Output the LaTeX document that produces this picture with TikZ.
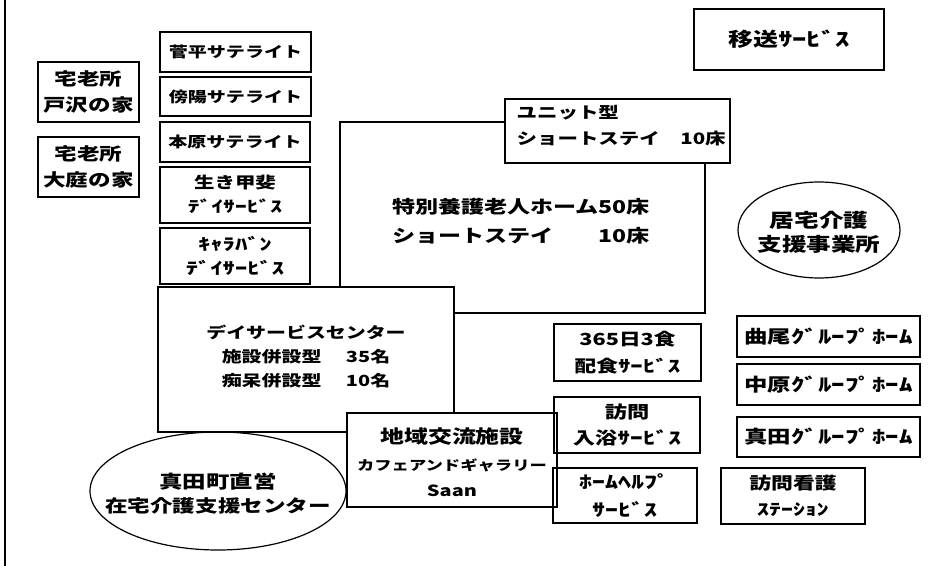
\documentclass[tikz,border=0pt]{standalone}
\usepackage{fontspec}
\usepackage{graphicx}
\usetikzlibrary{fit,shapes.geometric}
\newfontfamily\jp[FakeStretch=1.3]{Noto Sans CJK JP}
\newcommand\jpf[2]{\jp\bfseries\fontsize{#1}{#2}\selectfont}
\newcommand\hw[1]{\scalebox{1.15}[1]{#1}}
\newcommand\jline[1]{\raisebox{0pt}[0.88em][0.12em]{#1}}
\tikzset{
  box/.style={draw, line width=0.9pt, inner sep=0pt},
  oval/.style={draw, ellipse, line width=0.9pt, inner sep=0pt},
  label text/.style={inner sep=0pt, align=center},
  frame/.style={line width=0.9pt}
}

\begin{document}
\begin{tikzpicture}[x=0.75pt, y=-0.75pt]
		\useasboundingbox (0,0) rectangle (952,566);
		%%%%% LEFT EDGE %%%%%
		\draw[line width=1.5pt] (5,0) -- (5,566);
		
		%%%%% TOP ROW %%%%%
		\node[box, fit={(694,9) (884,70)}] (iso) {};
		\node[label text, font=\jpf{14.4}{18}] (isotext) at (iso) {\jline{移送\hw{ｻｰﾋﾞｽ}}};
		
		\node[box, fit={(160,32) (311,72)}] (sugadaira) {};
		\node[label text, font=\jpf{11}{16}] (sugadairatext) at (sugadaira) {\jline{菅平サテライト}};
		\node[box, fit={(160,77) (311,116)}] (soehi) {};
		\node[label text, font=\jpf{11}{16}] (soehitext) at (soehi) {\jline{傍陽サテライト}};
		\node[box, fit={(160,122) (310,162)}] (motohara) {};
		\node[label text, font=\jpf{11}{16}] (motoharatext) at (motohara) {\jline{本原サテライト}};
		\node[box, fit={(160,167) (310,223)}] (ikigai) {};
		\node[label text, font=\jpf{11.8}{18}] (ikigaitext) at (ikigai) {\jline{生き甲斐}\\\jline{\hw{ﾃﾞｲｻｰﾋﾞｽ}}};
		\node[box, fit={(160,228) (310,284)}] (caravan) {};
		\node[label text, font=\jpf{12.3}{18}] (caravantext) at (caravan) {\jline{\hw{ｷｬﾗﾊﾞﾝ}}\\\jline{\hw{ﾃﾞｲｻｰﾋﾞｽ}}};
		
		\node[box, fit={(38,62) (139,122)}] (tozawa) {};
		\node[label text, font=\jpf{13}{20}] (tozawatext) at (tozawa) {\jline{宅老所}\\\jline{戸沢の家}};
		\node[box, fit={(38,137) (139,197)}] (oniwa) {};
		\node[label text, font=\jpf{13}{20}] (oniwatext) at (oniwa) {\jline{宅老所}\\\jline{大庭の家}};
		
		%%%%% TOKUYO %%%%%
		\node[box, fit={(505,99) (730,163)}] (unit) {};
		\node[label text, align=left, anchor=west, font=\jpf{11.8}{20}] (unittext) at ([xshift=9pt, yshift=4pt]unit.west) {\jline{ユニット型}\\\jline{ショートステイ　10床}};
		\node[label text, font=\jpf{13.3}{21.75}] (tokuyo) at (521,222) {%
			\begin{tabular}{@{}l@{}r@{}}\jline{特別養護老人ホーム}&\jline{50床}\\\jline{ショートステイ}&\jline{10床}\end{tabular}};
		
		\node[box, fit={(158,287) (454,432)}] (day) {};
		\node[label text, font=\jpf{11.5}{18}] (daytext) at (306,357) {\jline{デイサービスセンター}\\\jline{施設併設型\hspace{1.6em}35名}\\\jline{痴呆併設型\hspace{1.6em}10名}};
		
		\draw[frame] (unit.west |- 340,122) -- (340,122) -- (340,0 |- day.north);
		\draw[frame] (705,0 |- unit.south) -- (705,313) -- (day.east |- 0,313);
		
		\node[oval, minimum width=121.5pt, minimum height=72pt] (kyotaku) at (819,230) {};
		\node[label text, font=\jpf{14.2}{18}] (kyotakutext) at (819,232) {\jline{居宅介護}\\\jline{支援事業所}};
		
		%%%%% BOTTOM %%%%%
		\node[oval, minimum width=192pt, minimum height=88.5pt] (sanada) at (218,491) {};
		\node[label text, font=\jpf{13.5}{18}] (sanadatext) at (218,494) {\jline{真田町直営}\\{\fontsize{13}{18}\selectfont\jline{在宅介護支援センター}}};
		
		\node[box, fill=white, fit={(347,413) (557,507)}] (chiiki) {};
		\node[label text, font=\jpf{13.8}{20}] (chiikitext) at (452,463) {\jline{地域交流施設}\\{\fontsize{10}{20}\selectfont\jline{カフェアンドギャラリー}}\\{\fontsize{11.5}{20}\selectfont\jline{Saan}}};
		
		\node[box, fit={(554,324) (701,381)}] (meal) {};
		\node[label text, font=\jpf{12.5}{20}] (mealtext) at (meal) {\jline{365日3食}\\\jline{配食\hw{ｻｰﾋﾞｽ}}};
		\node[box, fit={(554,397) (700,453)}] (bath) {};
		\node[label text, font=\jpf{12.8}{20}] (bathtext) at (bath) {\jline{訪問}\\\jline{入浴\hw{ｻｰﾋﾞｽ}}};
		\node[box, fit={(553,468) (697,523)}] (helper) {};
		\node[label text, font=\jpf{13}{21}] (helpertext) at (helper) {\jline{\hw{ﾎｰﾑﾍﾙﾌﾟ}}\\\jline{\hw{ｻｰﾋﾞｽ}}};
		
		\node[box, fit={(737,316) (920,357)}] (magario) {};
		\node[label text, font=\jpf{13.5}{18}] (magariotext) at (magario) {\jline{曲尾\hw{ｸﾞﾙｰﾌﾟﾎｰﾑ}}};
		\node[box, fit={(737,364) (920,405)}] (nakahara) {};
		\node[label text, font=\jpf{13.5}{18}] (nakaharatext) at (nakahara) {\jline{中原\hw{ｸﾞﾙｰﾌﾟﾎｰﾑ}}};
		\node[box, fit={(737,417) (920,457)}] (sanadagh) {};
		\node[label text, font=\jpf{13.5}{18}] (sanadaghtext) at (sanadagh) {\jline{真田\hw{ｸﾞﾙｰﾌﾟﾎｰﾑ}}};
		\node[box, fit={(721,468) (865,524)}] (nurse) {};
		\node[label text, font=\jpf{12.6}{19.5}] (nursetext) at (nurse) {\jline{訪問看護}\\{\fontsize{12}{19.5}\selectfont\jline{\hw{ｽﾃｰｼｮﾝ}}}};
		%%%%% END %%%%%
	\end{tikzpicture}
\end{document}
